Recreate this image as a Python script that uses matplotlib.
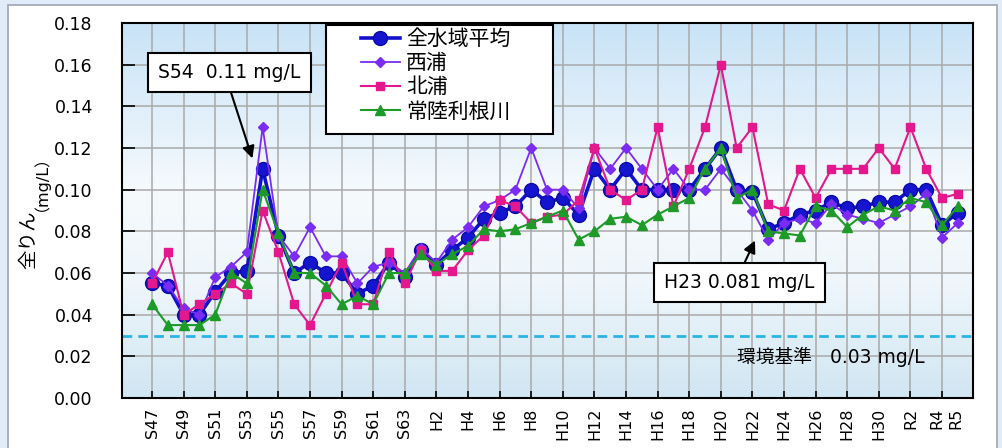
import numpy as np
import matplotlib
matplotlib.use('Agg')
import matplotlib.pyplot as plt
from matplotlib.patches import Rectangle
from matplotlib.colors import LinearSegmentedColormap
from matplotlib.ticker import FormatStrFormatter
from matplotlib.transforms import ScaledTranslation

plt.rcParams['font.family'] = ['DejaVu Sans', 'Noto Sans CJK JP']

# ---------------- data ----------------
years = ['S47', 'S48', 'S49', 'S50', 'S51', 'S52', 'S53', 'S54', 'S55', 'S56',
         'S57', 'S58', 'S59', 'S60', 'S61', 'S62', 'S63',
         'H1', 'H2', 'H3', 'H4', 'H5', 'H6', 'H7', 'H8', 'H9', 'H10',
         'H11', 'H12', 'H13', 'H14', 'H15', 'H16', 'H17', 'H18', 'H19', 'H20',
         'H21', 'H22', 'H23', 'H24', 'H25', 'H26', 'H27', 'H28', 'H29', 'H30',
         'R1', 'R2', 'R3', 'R4', 'R5']

tick_labels = ['S47', 'S49', 'S51', 'S53', 'S55', 'S57', 'S59', 'S61', 'S63',
               'H2', 'H4', 'H6', 'H8', 'H10', 'H12', 'H14', 'H16', 'H18', 'H20',
               'H22', 'H24', 'H26', 'H28', 'H30', 'R2', 'R4']
extra_label = ['R5']

all_avg = [0.055, 0.054, 0.040, 0.040, 0.051, 0.060, 0.061, 0.110, 0.078, 0.060,
           0.065, 0.060, 0.060, 0.050, 0.054, 0.065, 0.058,
           0.071, 0.064, 0.071, 0.077, 0.086, 0.089, 0.092, 0.100, 0.094, 0.096,
           0.088, 0.110, 0.100, 0.110, 0.100, 0.100, 0.100, 0.100, 0.110, 0.120,
           0.100, 0.099, 0.081, 0.084, 0.088, 0.090, 0.094, 0.091, 0.092, 0.094,
           0.094, 0.100, 0.100, 0.083, 0.089]

nishiura = [0.060, 0.054, 0.043, 0.040, 0.058, 0.063, 0.070, 0.130, 0.078, 0.068,
            0.082, 0.068, 0.068, 0.055, 0.063, 0.065, 0.060,
            0.072, 0.065, 0.076, 0.082, 0.092, 0.095, 0.100, 0.120, 0.100, 0.100,
            0.091, 0.120, 0.110, 0.120, 0.110, 0.100, 0.110, 0.100, 0.100, 0.110,
            0.100, 0.090, 0.076, 0.084, 0.086, 0.084, 0.093, 0.088, 0.086, 0.084,
            0.088, 0.092, 0.098, 0.077, 0.084]

kitaura = [0.055, 0.070, 0.040, 0.045, 0.050, 0.055, 0.050, 0.090, 0.070, 0.045,
           0.035, 0.050, 0.065, 0.045, 0.045, 0.070, 0.055,
           0.071, 0.061, 0.061, 0.071, 0.078, 0.095, 0.092, 0.084, 0.087, 0.088,
           0.095, 0.120, 0.100, 0.095, 0.100, 0.130, 0.092, 0.110, 0.130, 0.160,
           0.120, 0.130, 0.093, 0.090, 0.110, 0.096, 0.110, 0.110, 0.110, 0.120,
           0.110, 0.130, 0.110, 0.096, 0.098]

hitachitone = [0.045, 0.035, 0.035, 0.035, 0.040, 0.060, 0.055, 0.100, 0.079, 0.060,
               0.060, 0.054, 0.045, 0.049, 0.045, 0.060, 0.060,
               0.069, 0.064, 0.069, 0.073, 0.081, 0.080, 0.081, 0.084, 0.087, 0.090,
               0.076, 0.080, 0.086, 0.087, 0.083, 0.088, 0.092, 0.096, 0.110, 0.120,
               0.096, 0.100, 0.080, 0.079, 0.078, 0.092, 0.090, 0.082, 0.088, 0.092,
               0.090, 0.096, 0.094, 0.083, 0.092]

env_standard = 0.03
series_names = ['全水域平均', '西浦', '北浦', '常陸利根川']

# ---------------- figure ----------------
W, H = 1002, 448
fig = plt.figure(figsize=(W / 100, H / 100), dpi=100)
fig.patch.set_facecolor('#e2ecf9')
fig.add_artist(Rectangle((8 / W, -0.01), (997 - 8) / W, (448 - 5) / H + 0.01,
                         transform=fig.transFigure, fc='white', ec='#9aa5b5',
                         lw=1.2, zorder=-10))

ax = fig.add_axes([122 / W, 1 - 398 / H, (973 - 122) / W, (398 - 23) / H])

# gradient background
cmap = LinearSegmentedColormap.from_list(
    'bg', [(0.0, '#d0e6f2'), (0.3, '#eef6fb'), (0.55, '#f6fafd'), (1.0, '#c8e3f7')])
grad = np.linspace(0, 1, 256).reshape(-1, 1)
ax.imshow(grad, extent=[0, 1, 0, 1], transform=ax.transAxes, origin='lower',
          aspect='auto', cmap=cmap, zorder=0)

x = np.arange(len(years))

ax.plot(x, all_avg, color='#1212cc', marker='o', ms=10, lw=2.6,
        mec='#0a0aa8', mfc='#1515d0', label=series_names[0], zorder=3)
ax.plot(x, nishiura, color='#7a2cf2', marker='D', ms=5, lw=1.3,
        label=series_names[1], zorder=4)
ax.plot(x, kitaura, color='#e3188c', marker='s', ms=6, lw=1.5,
        label=series_names[2], zorder=5)
ax.plot(x, hitachitone, color='#1e9a28', marker='^', ms=6.5, lw=1.5,
        label=series_names[3], zorder=6)

ax.axhline(env_standard, color='#2ab4e6', lw=2, ls=(0, (3.5, 2.2)), zorder=2.5)
ax.text(37.0, 0.0196, '環境基準   0.03 mg/L', fontsize=13.5, va='center', ha='left',
        zorder=7)

ax.set_xlim(-1.9, 51.96)
ax.set_ylim(0, 0.18)
ax.set_yticks(np.arange(0, 0.181, 0.02))
ax.yaxis.set_major_formatter(FormatStrFormatter('%.2f'))

ax.set_xticks(x[0:51:2])
ax.set_xticklabels(tick_labels, rotation=90)
ax.set_xticks([x[-1]], minor=True)
ax.set_xticklabels(extra_label, minor=True, rotation=90)

ax.grid(True, which='major', color='#a9a9a9', lw=1.1)
ax.tick_params(axis='x', which='major', direction='in', length=5, width=1.2,
               pad=7, labelsize=11.5)
ax.tick_params(axis='x', which='minor', direction='in', length=0,
               pad=7, labelsize=11.5)
ax.tick_params(axis='y', direction='in', length=9, width=1.2, pad=21, labelsize=12.5)
for s in ax.spines.values():
    s.set_linewidth(1.5)
    s.set_color('black')

# nudge the crowded last two labels apart (as in the reference)
for lab in ax.get_xticklabels():
    if lab.get_text() == 'R4':
        lab.set_transform(lab.get_transform() +
                          ScaledTranslation(-0.05, 0, fig.dpi_scale_trans))
for lab in ax.get_xticklabels(minor=True):
    if lab.get_text() == 'R5':
        lab.set_transform(lab.get_transform() +
                          ScaledTranslation(-0.02, 0, fig.dpi_scale_trans))

# annotations
ax.annotate('S54  0.11 mg/L', xy=(6.35, 0.115), xycoords='data',
            xytext=(229, H - 72.5), textcoords='figure pixels',
            ha='center', va='center', fontsize=13.5, zorder=12,
            bbox=dict(boxstyle='square,pad=0.55', fc='white', ec='black', lw=1.5),
            arrowprops=dict(arrowstyle='-|>', color='black', lw=1.5,
                            mutation_scale=18, shrinkA=0, shrinkB=0,
                            relpos=(0.49, 0)))
ax.annotate('H23 0.081 mg/L', xy=(38.16, 0.0756), xycoords='data',
            xytext=(739, H - 282.5), textcoords='figure pixels',
            ha='center', va='center', fontsize=13.5, zorder=12,
            bbox=dict(boxstyle='square,pad=0.55', fc='white', ec='black', lw=1.5),
            arrowprops=dict(arrowstyle='-|>', color='black', lw=1.5,
                            mutation_scale=18, shrinkA=0, shrinkB=0,
                            relpos=(0.505, 1)))

# legend with custom frame
ax.add_patch(Rectangle((326 / W, 1 - 134 / H), 227 / W, 109 / H,
                       transform=fig.transFigure, fc='white', ec='black', lw=1.5,
                       zorder=10, clip_on=False))
leg = ax.legend(loc='upper left', bbox_to_anchor=(361 / W, 1 - 29 / H),
                bbox_transform=fig.transFigure, frameon=False, fontsize=15,
                handlelength=1.85, handletextpad=0.3, labelspacing=0.2,
                borderpad=0, borderaxespad=0)
leg.set_zorder(11)

# y label
fig.text(29 / W, 1 - 240 / H, '全りん', rotation=90, fontsize=14,
         ha='center', va='center')
fig.text(33 / W, 1 - 175 / H, '（mg/L）', rotation=90, fontsize=11.5,
         ha='center', va='center')

fig.savefig('out.png', dpi=100)
